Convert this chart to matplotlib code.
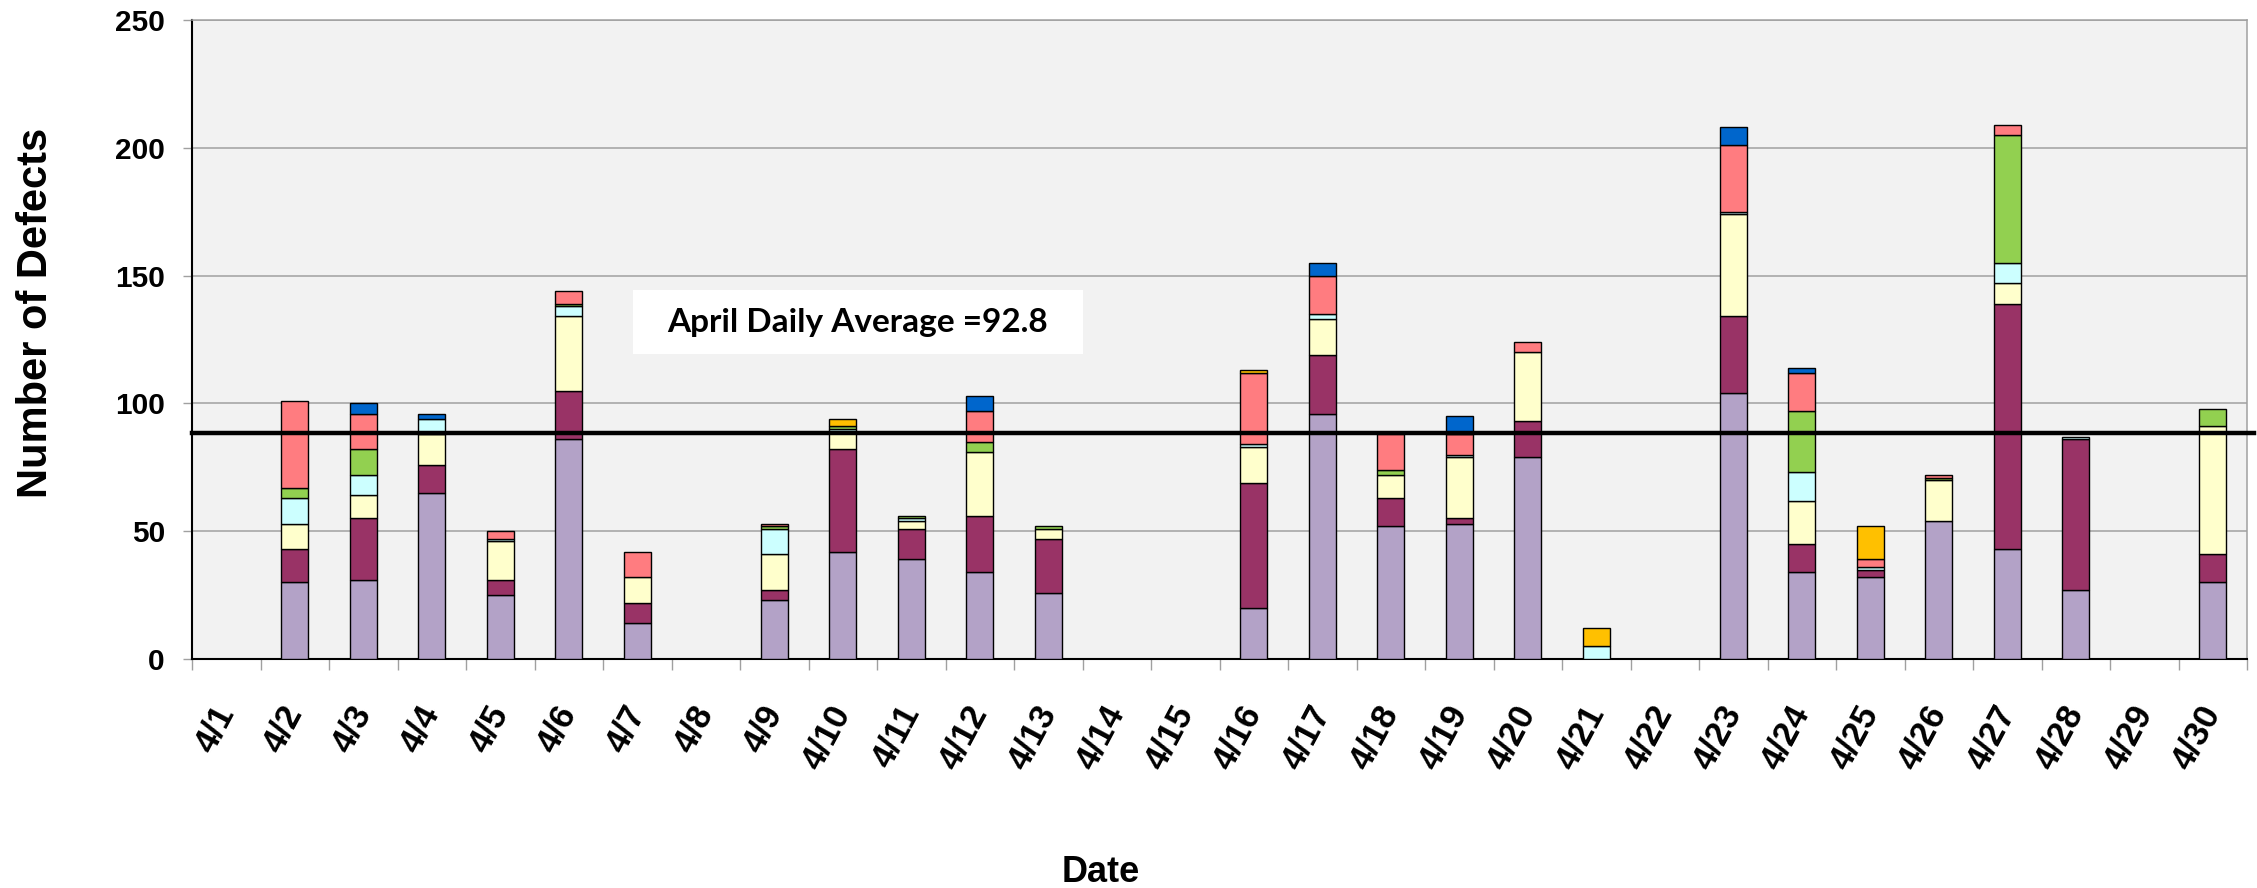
import numpy as np
import matplotlib
matplotlib.use("Agg")
from matplotlib import pyplot as plt
from matplotlib.patches import Rectangle
from matplotlib.ticker import FixedLocator

# April defects per day, one list per defect type (stack order bottom -> top)
days = [f"4/{d}" for d in range(1, 31)]
purple = [0, 30, 31, 65, 25, 86, 14, 0, 23, 42, 39, 34, 26, 0, 0, 20, 96, 52, 53, 79, 0, 0, 104, 34, 32, 54, 43, 27, 0, 30]
maroon = [0, 13, 24, 11, 6, 19, 8, 0, 4, 40, 12, 22, 21, 0, 0, 49, 23, 11, 2, 14, 0, 0, 30, 11, 3, 0, 96, 59, 0, 11]
yellow = [0, 10, 9, 12, 15, 29, 10, 0, 14, 7, 3, 25, 4, 0, 0, 14, 14, 9, 24, 27, 0, 0, 40, 17, 0, 16, 8, 0, 0, 50]
cyan = [0, 10, 8, 6, 1, 4, 0, 0, 10, 1, 1, 0, 0, 0, 0, 1, 2, 0, 1, 0, 5, 0, 1, 11, 1, 0, 8, 1, 0, 0]
green = [0, 4, 10, 0, 0, 1, 0, 0, 1, 1, 1, 4, 1, 0, 0, 0, 0, 2, 0, 0, 0, 0, 0, 24, 0, 1, 50, 0, 0, 7]
salmon = [0, 34, 14, 0, 3, 5, 10, 0, 1, 0, 0, 12, 0, 0, 0, 28, 15, 14, 8, 4, 0, 0, 26, 15, 3, 1, 4, 0, 0, 0]
blue = [0, 0, 4, 2, 0, 0, 0, 0, 0, 0, 0, 6, 0, 0, 0, 0, 5, 0, 7, 0, 0, 0, 7, 2, 0, 0, 0, 0, 0, 0]
orange = [0, 0, 0, 0, 0, 0, 0, 0, 0, 3, 0, 0, 0, 0, 0, 1, 0, 0, 0, 0, 7, 0, 0, 0, 13, 0, 0, 0, 0, 0]

average_line = 88.5
average_label = "April Daily Average =92.8"
y_ticks = [0, 50, 100, 150, 200, 250]

series = [
    (purple, "#B3A2C7"),
    (maroon, "#993366"),
    (yellow, "#FFFFCC"),
    (cyan, "#CCFFFF"),
    (green, "#92D050"),
    (salmon, "#FF7C80"),
    (blue, "#0066CC"),
    (orange, "#FFC000"),
]

fig = plt.figure(figsize=(22.57, 8.88), dpi=100)
ax = fig.add_axes([192 / 2257, 1 - 659 / 888, 2055 / 2257, 639 / 888])
ax.set_facecolor("#F2F2F2")

x = np.arange(len(days))
bottom = np.zeros(len(days))
for vals, color in series:
    vals = np.array(vals, dtype=float)
    edges = ["black" if v > 0 else "none" for v in vals]
    ax.bar(x, vals, bottom=bottom, width=0.4, color=color, edgecolor=edges,
           linewidth=1.0, zorder=3)
    bottom += vals

ax.set_xlim(-0.5, len(days) - 0.5)
ax.set_ylim(0, 250)
ax.set_yticks(y_ticks)
ax.yaxis.grid(True, color="#A0A0A0", linewidth=1.1, zorder=0)
ax.set_axisbelow(True)

# x labels at centers, tick marks between days
ax.set_xticks(x)
ax.set_xticklabels(days, rotation=62, ha="right", va="center", rotation_mode="anchor",
                   fontsize=25, fontweight="bold", family="Liberation Sans")
ax.tick_params(axis="x", which="major", length=0, pad=35)
ax.xaxis.set_minor_locator(FixedLocator(np.arange(-0.5, len(days), 1.0)))
ax.tick_params(axis="x", which="minor", length=8, width=1.0, color="#A0A0A0")
ax.tick_params(axis="y", length=6.5, width=1.0, color="#A0A0A0", pad=13)
for lbl in ax.get_yticklabels():
    lbl.set_fontsize(21.5)
    lbl.set_fontweight("bold")
    lbl.set_family("Liberation Sans")

for side in ["left", "bottom"]:
    ax.spines[side].set_color("black")
    ax.spines[side].set_linewidth(1.5)
for side in ["top", "right"]:
    ax.spines[side].set_color("#A0A0A0")
    ax.spines[side].set_linewidth(1.1)

# average line, running slightly past the plot edge
ax.plot([-0.5, len(days) - 0.4], [average_line, average_line], color="black",
        linewidth=3.2, zorder=5, clip_on=False)

# label box
ax.add_patch(Rectangle((5.94, 119.5), 6.56, 24.7, facecolor="white", edgecolor="none", zorder=4))
ax.text(9.21, 131.8, average_label, ha="center", va="center", fontsize=24,
        fontweight="bold", family="Lato", zorder=6)

fig.text(36 / 2257, 1 - 313 / 888, "Number of Defects", rotation=90, ha="center", va="center",
         fontsize=30, fontweight="bold", family="Liberation Sans")
fig.text(1101 / 2257, 1 - 882 / 888, "Date", ha="center", va="baseline",
         fontsize=26, fontweight="bold", family="Liberation Sans")

fig.savefig("out.png", dpi=100)
